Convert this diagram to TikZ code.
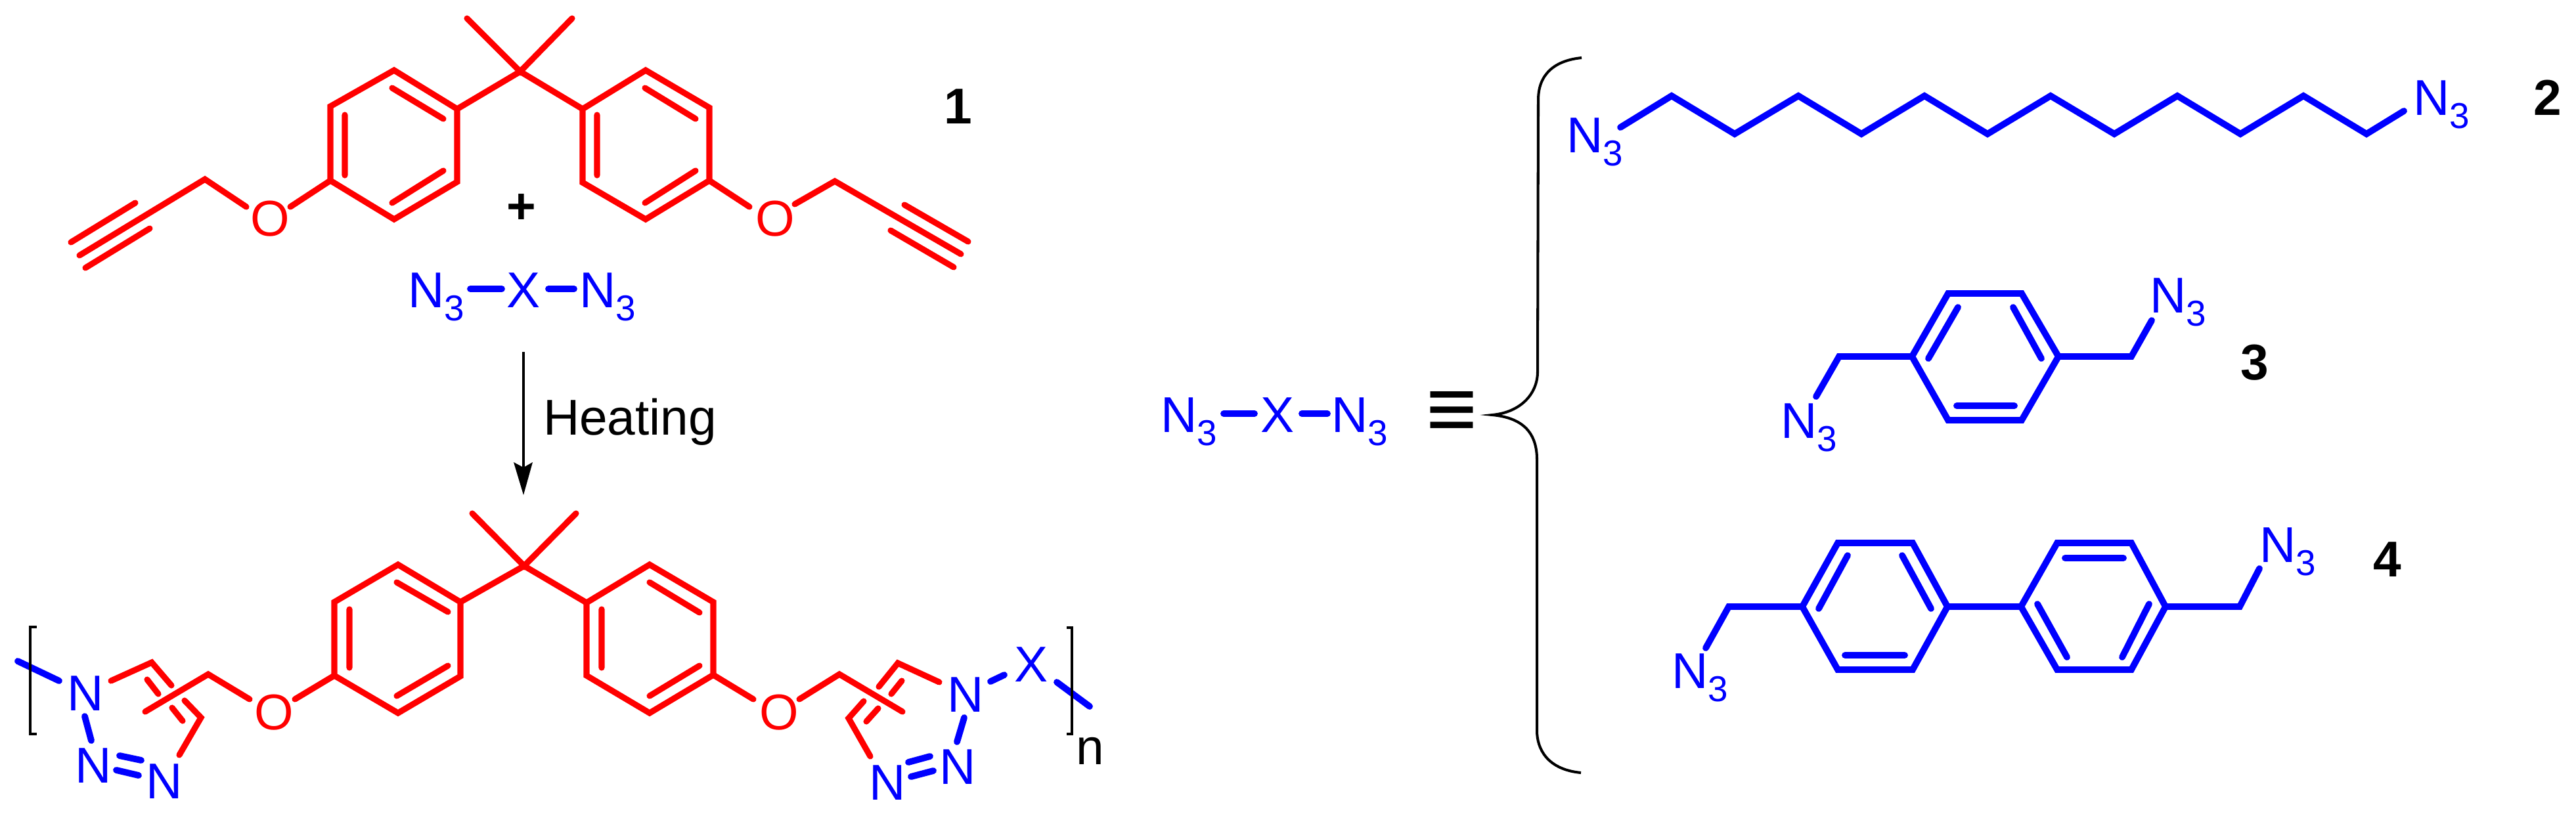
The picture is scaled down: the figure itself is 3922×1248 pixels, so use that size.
\documentclass[tikz,border=0pt]{standalone}
\usepackage{fontspec}
\setmainfont{Liberation Sans}
\definecolor{molred}{RGB}{255,0,0}
\definecolor{molblue}{RGB}{0,0,255}
\newcommand{\azide}{N\raisebox{-0.27em}{\fontsize{15.6}{16}\selectfont 3}}
\tikzset{
  x=0.01cm,y=-0.01cm,
  redbond/.style={draw=molred,line width=2.6pt,line cap=round,line join=miter},
  bluebond/.style={draw=molblue,line width=2.8pt,line cap=round,line join=miter},
  blacklink/.style={draw=black,line width=1.15pt},
  atom/.style={inner sep=0pt,outer sep=0pt,anchor=base west,font=\fontsize{21.8}{24}\selectfont},
  redatom/.style={atom,text=molred},
  blueatom/.style={atom,text=molblue},
  blackatom/.style={atom,text=black},
  numlabel/.style={atom,font=\fontsize{21.8}{24}\selectfont\bfseries},
}
\begin{document}
\begin{tikzpicture}
\useasboundingbox (0,0) rectangle (3922,1248);
% ---------- top bisphenol ----------
\coordinate (qc) at (792,109);
\draw[redbond] (711,28) -- (qc) -- (871,28);
\draw[redbond] (600,107) -- (696,166) -- (696,277) -- (600,334) -- (503,275) -- (503,162) -- cycle;
\draw[redbond] (696,166) -- (qc) -- (887,166);
\draw[redbond] (597,134) -- (675,181) (525,175) -- (525,267) (597,309) -- (675,260);
\draw[redbond] (983,107) -- (1080,164) -- (1080,275) -- (983,334) -- (887,278) -- (887,166) -- cycle;
\draw[redbond] (982,134) -- (1059,181) (909,175) -- (909,267) (982,309) -- (1059,260);
\node[redatom] (o1) at (381,359) {O};
\node[redatom] (o2) at (1150,359) {O};
\draw[redbond] (503,275) -- (442,315);
\draw[redbond] (375,315) -- (312,273) -- (121,389);
\draw[redbond] (108,369) -- (206,309) (130,408) -- (228,348);
\draw[redbond] (1080,275) -- (1141,315);
\draw[redbond] (1210,311) -- (1271,276) -- (1463,387);
\draw[redbond] (1377,312) -- (1474,368) (1356,351) -- (1452,407);
\node[blackatom,font=\fontsize{21.8}{24}\selectfont\bfseries] (plus) at (771,340) {+};
% N3-X-N3 top
\node[blueatom] (a1) at (621,468) {\azide};
\node[blueatom] (x1) at (771,468) {X};
\node[blueatom] (a2) at (882,468) {\azide};
\draw[bluebond] (716,440) -- (764,440) (835,440) -- (874,440);
% arrow
\coordinate (ar1) at (797,536);
\coordinate (ar2) at (797,712);
\draw[blacklink] (ar1) -- (ar2);
\fill[black] (797,754) -- (782,704) -- (797,712) -- (811,704) -- cycle;
\node[blackatom] (heat) at (827,662) {Heating};
% ---------- bottom polymer ----------
\coordinate (qd) at (798,862);
\draw[redbond] (719,782) -- (qd) -- (877,782);
\draw[redbond] (606,860) -- (701,917) -- (701,1030) -- (606,1086) -- (509,1029) -- (509,917) -- cycle;
\draw[redbond] (701,917) -- (qd) -- (893,918);
\draw[redbond] (604,887) -- (682,932) (532,928) -- (532,1017) (604,1060) -- (682,1014);
\draw[redbond] (989,860) -- (1086,917) -- (1086,1028) -- (989,1086) -- (893,1029) -- (893,918) -- cycle;
\draw[redbond] (989,887) -- (1065,933) (916,928) -- (916,1017) (989,1060) -- (1065,1014);
\node[redatom] (o3) at (387,1111) {O};
\node[redatom] (o4) at (1156,1111) {O};
\draw[redbond] (509,1029) -- (449,1065);
\draw[redbond] (380,1065) -- (317,1027) -- (221,1084);
\draw[redbond] (1086,1028) -- (1147,1065);
\draw[redbond] (1217,1065) -- (1278,1027) -- (1374,1084);
% left triazole
\draw[redbond] (169,1037) -- (231,1009) -- (261,1044);
\draw[redbond] (224,1035) -- (241,1057);
\draw[redbond] (281,1067) -- (306,1093) -- (273,1150);
\draw[redbond] (262,1078) -- (278,1098);
\node[blueatom] (n1) at (102,1082) {N};
\node[blueatom] (n2) at (114,1192) {N};
\node[blueatom] (n3) at (222,1216) {N};
\draw[bluebond] (27,1007) -- (90,1037);
\draw[bluebond] (129,1091) -- (139,1128);
\draw[bluebond] (182,1151) -- (215,1158) (177,1173) -- (211,1181);
\draw[blacklink] (56,955) -- (46,955) -- (46,1118) -- (56,1118);
% right triazole
\draw[redbond] (1430,1039) -- (1367,1010) -- (1338,1046);
\draw[redbond] (1373,1037) -- (1357,1057);
\draw[redbond] (1315,1068) -- (1292,1094) -- (1325,1152);
\draw[redbond] (1337,1079) -- (1319,1099);
\node[blueatom] (n4) at (1442,1084) {N};
\node[blueatom] (n5) at (1430,1194) {N};
\node[blueatom] (n6) at (1323,1218) {N};
\node[blueatom] (x2) at (1544,1038) {X};
\draw[bluebond] (1468,1093) -- (1457,1130);
\draw[bluebond] (1383,1161) -- (1416,1152) (1387,1183) -- (1421,1174);
\draw[bluebond] (1508,1038) -- (1529,1028);
\draw[bluebond] (1609,1039) -- (1659,1076);
\draw[blacklink] (1624,956) -- (1632,956) -- (1632,1118) -- (1624,1118);
\node[blackatom] (nsub) at (1638,1164) {n};
% ---------- definition ----------
\node[blueatom] (a3) at (1767,658) {\azide};
\node[blueatom] (x3) at (1919,658) {X};
\node[blueatom] (a4) at (2027,658) {\azide};
\draw[bluebond] (1863,630) -- (1910,630) (1982,630) -- (2021,630);
\node[inner sep=0pt,font=\fontsize{38}{40}\selectfont\bfseries] (equiv) at (2210,632) {≡};
\coordinate (bra) at (2272,632);
\draw[draw=black,line width=1.15pt] (2408,88) .. controls (2368,92) and (2342,112) .. (2342,152) -- (2341,566) .. controls (2341,600) and (2315,628) .. (bra) .. controls (2315,636) and (2340,656) .. (2340,700) -- (2340,1113) .. controls (2340,1140) and (2355,1172) .. (2407,1177);
% compound 2
\node[blueatom] (c2a) at (2385,232) {\azide};
\draw[bluebond] (2467,194) -- (2545,146) -- (2641,204) -- (2738,146) -- (2834,204) -- (2930,146) -- (3026,204) -- (3122,146) -- (3219,204) -- (3315,146) -- (3411,204) -- (3507,146) -- (3603,204) -- (3660,169);
\node[blueatom] (c2b) at (3674,175) {\azide};
\node[numlabel] (l2) at (3857,175) {2};
% compound 3
\draw[bluebond] (2911,543) -- (2966,447) -- (3078,447) -- (3134,543) -- (3078,640) -- (2966,640) -- cycle;
\draw[bluebond] (2981,468) -- (2936,546) (3065,468) -- (3108,546) (2979,618) -- (3067,618);
\draw[bluebond] (2911,543) -- (2800,543) -- (2765,604);
\draw[bluebond] (3134,543) -- (3245,543) -- (3276,488);
\node[blueatom] (c3a) at (2711,667) {\azide};
\node[blueatom] (c3b) at (3273,476) {\azide};
\node[numlabel] (l3) at (3411,578) {3};
% compound 4
\draw[bluebond] (2744,924) -- (2798,827) -- (2912,827) -- (2965,924) -- (2912,1020) -- (2798,1020) -- cycle;
\draw[bluebond] (2813,846) -- (2769,927) (2896,846) -- (2940,927) (2809,998) -- (2900,998);
\draw[bluebond] (3077,924) -- (3132,827) -- (3245,827) -- (3297,924) -- (3245,1020) -- (3132,1020) -- cycle;
\draw[bluebond] (3144,850) -- (3233,850) (3102,920) -- (3147,1001) (3272,920) -- (3231,1001);
\draw[bluebond] (2965,924) -- (3077,924);
\draw[bluebond] (2744,924) -- (2632,924) -- (2597,987);
\draw[bluebond] (3297,924) -- (3410,924) -- (3440,866);
\node[blueatom] (c4a) at (2545,1048) {\azide};
\node[blueatom] (c4b) at (3440,856) {\azide};
\node[numlabel] (l4) at (3613,878) {4};
\node[numlabel] (l1) at (1437,188) {1};
\end{tikzpicture}
\end{document}
